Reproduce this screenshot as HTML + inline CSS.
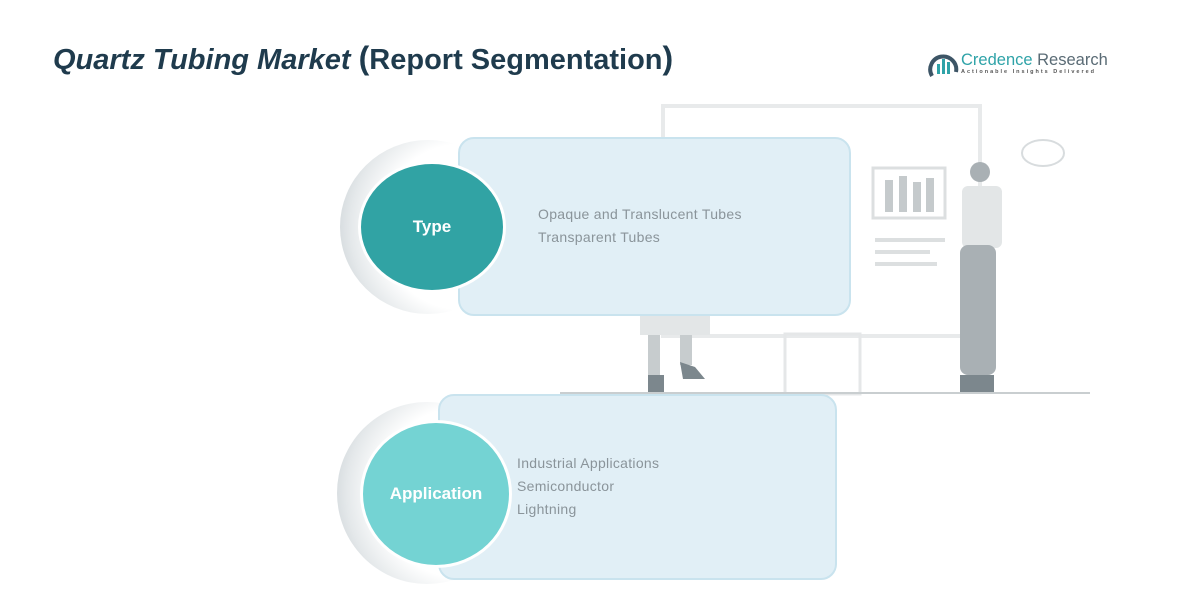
<!DOCTYPE html>
<html><head><meta charset="utf-8"><style>
body{margin:0;width:1195px;height:612px;background:#fff;position:relative;overflow:hidden;font-family:"Liberation Sans",sans-serif}
.abs{position:absolute}
.title{left:53px;top:40px;font-size:29px;font-weight:bold;color:#1f3b4d}
.box{position:absolute;background:#e1eff6;border:2px solid #c9e3ee;border-radius:16px;box-sizing:border-box}
.txt{position:absolute;font-size:14px;color:#8a949a;line-height:23px}
.circ{position:absolute;border-radius:50%;border:3px solid #fff;display:flex;align-items:center;justify-content:center;color:#fff;font-weight:bold;font-size:17px;box-sizing:border-box}
.ring{position:absolute;border-radius:50%;background:radial-gradient(circle at 70% 50%,#fff 55%,#e4e8ea 75%,#b9c2c7 100%)}
</style></head><body>
<div class="abs title"><i>Quartz Tubing Market</i> <span style="font-size:32px">(</span>Report Segmentation<span style="font-size:32px">)</span></div>
<svg class="abs" style="left:928px;top:50px" width="32" height="30"><path d="M4 26 A13 13 0 1 1 28 22" fill="none" stroke="#3d5566" stroke-width="4"/><rect x="9" y="14" width="3" height="10" fill="#2fa3a8"/><rect x="14" y="9" width="3" height="15" fill="#2fa3a8"/><rect x="19" y="12" width="3" height="12" fill="#2fa3a8"/></svg>
<div class="abs" style="left:961px;top:51px;font-size:16.5px;color:#2fa3a8">Credence <span style="color:#5a6b75">Research</span></div>
<div class="abs" style="left:961px;top:69px;font-size:5.5px;letter-spacing:2px;color:#555;font-weight:bold">Actionable Insights Delivered</div>
<svg class="abs" style="left:0;top:0" width="1195" height="612">
<rect x="663" y="106" width="317" height="230" fill="none" stroke="#e8eaeb" stroke-width="4"/>
<rect x="873" y="168" width="72" height="50" fill="none" stroke="#dcdfe0" stroke-width="3"/>
<rect x="885" y="180" width="8" height="32" fill="#c5cacc"/><rect x="899" y="176" width="8" height="36" fill="#c5cacc"/><rect x="913" y="182" width="8" height="30" fill="#c5cacc"/><rect x="926" y="178" width="8" height="34" fill="#c5cacc"/>
<rect x="875" y="238" width="70" height="4" fill="#dcdfe0"/><rect x="875" y="250" width="55" height="4" fill="#dcdfe0"/><rect x="875" y="262" width="62" height="4" fill="#dcdfe0"/>
<ellipse cx="1043" cy="153" rx="21" ry="13" fill="none" stroke="#d8dcde" stroke-width="2"/>
<circle cx="980" cy="172" r="10" fill="#a9b0b4"/>
<rect x="962" y="186" width="40" height="62" rx="6" fill="#e3e6e7"/>
<rect x="960" y="245" width="36" height="130" rx="8" fill="#a9b0b4"/>
<rect x="960" y="375" width="34" height="18" fill="#7c878d"/>
<rect x="785" y="334" width="75" height="60" fill="none" stroke="#e5e7e8" stroke-width="3"/>
<rect x="640" y="315" width="70" height="20" fill="#e3e6e7"/>
<rect x="648" y="335" width="12" height="40" fill="#c7ccce"/><rect x="680" y="335" width="12" height="30" fill="#c7ccce"/>
<path d="M648 375 h16 v18 h-16z M680 362 l15 5 l10 12 h-22z" fill="#7c878d"/>
<line x1="560" y1="393" x2="1090" y2="393" stroke="#c9ced0" stroke-width="2"/>
</svg>
<div class="ring" style="left:340px;top:140px;width:176px;height:174px"></div>
<div class="box" style="left:458px;top:137px;width:393px;height:179px"></div>
<div class="circ" style="left:358px;top:161px;width:148px;height:132px;background:#31a3a4">Type</div>
<div class="txt" style="left:538px;top:203px;letter-spacing:0.3px">Opaque and Translucent Tubes<br>Transparent Tubes</div>
<div class="ring" style="left:337px;top:402px;width:180px;height:182px"></div>
<div class="box" style="left:438px;top:394px;width:399px;height:186px"></div>
<div class="circ" style="left:360px;top:420px;width:152px;height:148px;background:#74d3d3">Application</div>
<div class="txt" style="left:517px;top:452px;letter-spacing:0.3px">Industrial Applications<br>Semiconductor<br>Lightning</div>
</body></html>
